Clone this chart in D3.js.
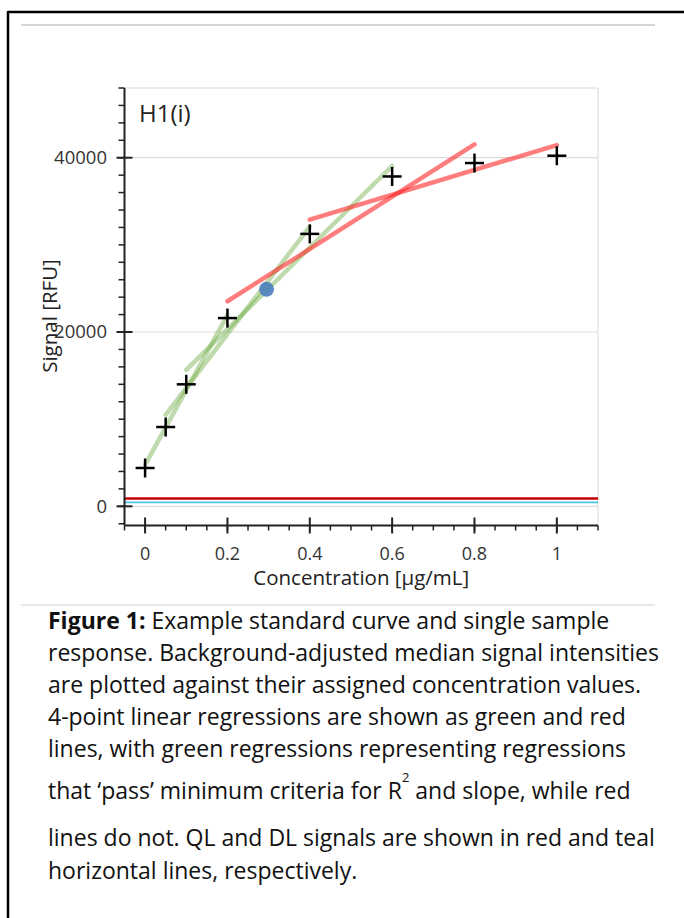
<!DOCTYPE html>
<html><head><meta charset="utf-8">
<script src="https://cdn.jsdelivr.net/npm/d3@7/dist/d3.min.js"></script>
<style>
html,body{margin:0;padding:0;background:#fff;}
svg{display:block;}
</style></head>
<body>
<script>
// ---- data ----
const concentrations = [0, 0.05, 0.1, 0.2, 0.4, 0.6, 0.8, 1.0];
const signals = [4400, 9100, 14000, 21600, 31260, 37850, 39390, 40230];
const sampleConc = [0.295];
const sampleSignal = [24900];
// regression line endpoints
const greenRegX0 = [0, 0.05, 0.1];
const greenRegY0 = [4760, 10500, 15650];
const greenRegX1 = [0.2, 0.4, 0.6];
const greenRegY1 = [21940, 32100, 39050];
const redRegX0 = [0.2, 0.4];
const redRegY0 = [23530, 32900];
const redRegX1 = [0.8, 1.0];
const redRegY1 = [41520, 41450];
const qlSignal = 900;
const dlSignal = 450;
const xTicks = [0, 0.2, 0.4, 0.6, 0.8, 1];
const yTicks = [0, 20000, 40000];
const panelLabel = "H1(i)";
const xTitle = "Concentration [µg/mL]";
const yTitle = "Signal [RFU]";

const W = 684, H = 918;
const svg = d3.select("body").append("svg").attr("width", W).attr("height", H);

// frame
svg.append("line").attr("x1", 8).attr("y1", 12).attr("x2", W).attr("y2", 12).attr("stroke", "#000").attr("stroke-width", 2.5);
svg.append("line").attr("x1", 8).attr("y1", 11).attr("x2", 8).attr("y2", H).attr("stroke", "#000").attr("stroke-width", 2.5);
svg.append("line").attr("x1", 21).attr("y1", 25).attr("x2", 655).attr("y2", 25).attr("stroke", "#c8c8c8").attr("stroke-width", 1.5);
svg.append("line").attr("x1", 21).attr("y1", 605).attr("x2", 655).attr("y2", 605).attr("stroke", "#d0d0d0").attr("stroke-width", 1);

const x = d3.scaleLinear().domain([-0.05, 1.1]).range([124.5, 598]);
const y = d3.scaleLinear().domain([-2200, 48000]).range([525.5, 88]);
const font = "'Open Sans', sans-serif";

// plot border (top, right)
svg.append("path").attr("d", `M${x(-0.05)},${y(48000)}H${x(1.1)}V${y(-2200)}`).attr("fill", "none").attr("stroke", "#d9d9d9").attr("stroke-width", 1);
// gridlines
svg.append("g").selectAll("line").data(yTicks).join("line")
  .attr("x1", x(-0.05)).attr("x2", x(1.1)).attr("y1", d => y(d)).attr("y2", d => y(d))
  .attr("stroke", "#dcdcdc").attr("stroke-width", 1.2);

// QL / DL
svg.append("line").attr("x1", x(-0.05)).attr("x2", x(1.1)).attr("y1", y(qlSignal)).attr("y2", y(qlSignal)).attr("stroke", "#c00000").attr("stroke-width", 2.5);
svg.append("line").attr("x1", x(-0.05)).attr("x2", x(1.1)).attr("y1", y(dlSignal)).attr("y2", y(dlSignal)).attr("stroke", "#4cc3dd").attr("stroke-width", 1.6);

// regressions
const g = svg.append("g");
g.selectAll("line.green").data(greenRegX0.map((d, i) => i)).join("line").attr("class", "green")
  .attr("x1", i => x(greenRegX0[i])).attr("y1", i => y(greenRegY0[i]))
  .attr("x2", i => x(greenRegX1[i])).attr("y2", i => y(greenRegY1[i]))
  .attr("stroke", "#70ad47").attr("stroke-opacity", 0.45).attr("stroke-width", 4.5).attr("stroke-linecap", "round");
g.selectAll("line.red").data(redRegX0.map((d, i) => i)).join("line").attr("class", "red")
  .attr("x1", i => x(redRegX0[i])).attr("y1", i => y(redRegY0[i]))
  .attr("x2", i => x(redRegX1[i])).attr("y2", i => y(redRegY1[i]))
  .attr("stroke", "#ff1f1f").attr("stroke-opacity", 0.58).attr("stroke-width", 4.5).attr("stroke-linecap", "round");

// sample point
svg.selectAll("circle.s").data(sampleConc).join("circle").attr("class", "s")
  .attr("cx", (d) => x(d)).attr("cy", (d, i) => y(sampleSignal[i])).attr("r", 7.5)
  .attr("fill", "#4a7ebb").attr("fill-opacity", 0.9);

// crosses
const cs = 9.5;
const crosses = svg.append("g").selectAll("g").data(concentrations).join("g")
  .attr("transform", (d, i) => `translate(${x(d)},${y(signals[i])})`);
crosses.append("line").attr("x1", -cs).attr("x2", cs).attr("stroke", "#000").attr("stroke-width", 2.5);
crosses.append("line").attr("y1", -cs).attr("y2", cs).attr("stroke", "#000").attr("stroke-width", 2.5);

// y axis
const yAxisX = x(-0.05);
svg.append("line").attr("x1", yAxisX).attr("x2", yAxisX).attr("y1", y(48000)).attr("y2", y(-2200)).attr("stroke", "#222").attr("stroke-width", 2);
const yMinor = d3.range(-2000, 48001, 2000);
svg.append("g").selectAll("line").data(yMinor).join("line")
  .attr("x1", yAxisX - 6).attr("x2", yAxisX).attr("y1", d => y(d)).attr("y2", d => y(d))
  .attr("stroke", "#222").attr("stroke-width", 1.5);
svg.append("g").selectAll("line").data(yTicks).join("line")
  .attr("x1", yAxisX - 8).attr("x2", yAxisX + 8).attr("y1", d => y(d)).attr("y2", d => y(d))
  .attr("stroke", "#222").attr("stroke-width", 2);
svg.append("g").selectAll("text").data(yTicks).join("text")
  .attr("x", 107).attr("y", d => y(d)).attr("dy", "0.35em").attr("text-anchor", "end")
  .attr("font-family", font).attr("font-size", 18.5).attr("fill", "#333").text(d => d);

// x axis
const xAxisY = y(-2200);
svg.append("line").attr("x1", x(-0.05)).attr("x2", x(1.1)).attr("y1", xAxisY).attr("y2", xAxisY).attr("stroke", "#222").attr("stroke-width", 2);
const xMinor = d3.range(-0.05, 1.1001, 0.05);
svg.append("g").selectAll("line").data(xMinor).join("line")
  .attr("x1", d => x(d)).attr("x2", d => x(d)).attr("y1", xAxisY).attr("y2", xAxisY + 5)
  .attr("stroke", "#222").attr("stroke-width", 1.5);
svg.append("g").selectAll("line").data(xTicks).join("line")
  .attr("x1", d => x(d)).attr("x2", d => x(d)).attr("y1", xAxisY - 8).attr("y2", xAxisY + 8)
  .attr("stroke", "#222").attr("stroke-width", 2);
svg.append("g").selectAll("text").data(xTicks).join("text")
  .attr("x", d => x(d)).attr("y", 554).attr("dy", "0.35em").attr("text-anchor", "middle")
  .attr("font-family", font).attr("font-size", 18).attr("fill", "#333").text(d => d);

svg.append("text").attr("x", (x(-0.05) + x(1.1)) / 2).attr("y", 578).attr("dy", "0.35em").attr("text-anchor", "middle")
  .attr("font-family", font).attr("font-size", 20.5).attr("fill", "#222").text(xTitle);
svg.append("text").attr("transform", "translate(50,316) rotate(-90)").attr("dy", "0.35em").attr("text-anchor", "middle")
  .attr("font-family", font).attr("font-size", 20.5).attr("fill", "#222").text(yTitle);
svg.append("text").attr("x", 139).attr("y", 114).attr("dy", "0.35em")
  .attr("font-family", font).attr("font-size", 24).attr("fill", "#222").text(panelLabel);

// caption
const capFont = "'Open Sans', 'Liberation Sans', sans-serif";
const capSize = 23;
const capX = 48;
const capLines = [
  {y: 621, parts: [{t: "Figure 1:", b: true}, {t: " Example standard curve and single sample"}]},
  {y: 653, parts: [{t: "response. Background-adjusted median signal intensities"}]},
  {y: 685, parts: [{t: "are plotted against their assigned concentration values."}]},
  {y: 717, parts: [{t: "4-point linear regressions are shown as green and red"}]},
  {y: 749, parts: [{t: "lines, with green regressions representing regressions"}]},
  {y: 791, parts: [{t: "that ‘pass’ minimum criteria for R"}, {t: "2", sup: true}, {t: " and slope, while red"}]},
  {y: 838, parts: [{t: "lines do not. QL and DL signals are shown in red and teal"}]},
  {y: 871, parts: [{t: "horizontal lines, respectively."}]}
];
capLines.forEach(l => {
  const t = svg.append("text").attr("x", capX).attr("y", l.y).attr("dy", "0.35em")
    .attr("font-family", capFont).attr("font-size", capSize).attr("fill", "#111");
  l.parts.forEach(p => {
    const ts = t.append("tspan").text(p.t);
    if (p.b) ts.attr("font-weight", "bold");
    if (p.sup) ts.attr("font-size", 13).attr("dy", -17);
    else if (p.t.startsWith(" and slope")) ts.attr("dy", 17);
  });
});
</script>
</body></html>
